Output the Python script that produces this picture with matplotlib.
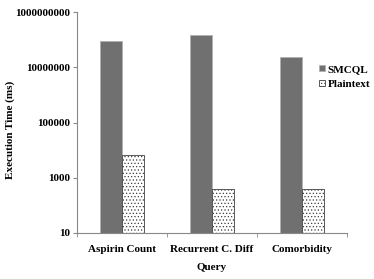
import matplotlib
matplotlib.use("Agg")
import matplotlib.pyplot as plt
import numpy as np

categories = ["Aspirin Count", "Recurrent C. Diff", "Comorbidity"]
smcql = [8.8e7, 1.45e8, 2.35e7]
plaintext = [6800, 400, 400]
ytick_vals = [10, 1000, 100000, 10000000, 1000000000]
ytick_labels = ["10", "1000", "100000", "10000000", "1000000000"]

plt.rcParams['font.family'] = ['Liberation Serif', 'DejaVu Serif']
plt.rcParams['font.weight'] = 'bold'
plt.rcParams['hatch.linewidth'] = 0.5
plt.rcParams['hatch.color'] = '#303030'

fig = plt.figure(figsize=(3.74, 2.79), dpi=100)
ax = fig.add_axes([77/374, 1-233/279, 270/374, 221/279])

x = np.arange(len(categories))
w = 0.24
ax.bar(x - w/2, smcql, w, color='#707070', edgecolor='#b0b0b0', linewidth=0.6, label='SMCQL')
ax.bar(x + w/2, plaintext, w, color='white', edgecolor='#404040', linewidth=0.6, hatch='.....', label='Plaintext')

ax.set_yscale('log')
ax.set_ylim(10, 1e9)
ax.set_xlim(-0.5, 2.5)
ax.set_yticks(ytick_vals)
ax.set_yticklabels(ytick_labels, fontsize=8, fontweight='bold')
ax.yaxis.set_minor_locator(matplotlib.ticker.NullLocator())
ax.set_xticks(x)
ax.set_xticklabels(categories, fontsize=8, fontweight='bold')
ax.tick_params(axis='x', which='major', length=0, pad=9)
ax.set_xticks([-0.5, 0.5, 1.5, 2.5], minor=True)
ax.tick_params(axis='x', which='minor', length=3, color='#888888', direction='out')
ax.tick_params(axis='y', which='major', length=3, color='#888888', pad=2)

for s in ['top', 'right']:
    ax.spines[s].set_visible(False)
for s in ['left', 'bottom']:
    ax.spines[s].set_color('#888888')
    ax.spines[s].set_linewidth(0.8)

fig.text(10/374, 1-130/279, "Execution Time (ms)", rotation=90, ha='center', va='center', fontsize=8, fontweight='bold')
fig.text(212/374, 1-268/279, "Query", ha='center', va='center', fontsize=8, fontweight='bold')

leg = fig.legend(loc='center left', bbox_to_anchor=(319/374, 1-77/279), frameon=False,
                 fontsize=8, handlelength=0.5, handleheight=0.5, handletextpad=0.3,
                 labelspacing=0.5, borderpad=0, borderaxespad=0)
for t in leg.get_texts():
    t.set_fontweight('bold')

fig.savefig("out.png", dpi=100)
